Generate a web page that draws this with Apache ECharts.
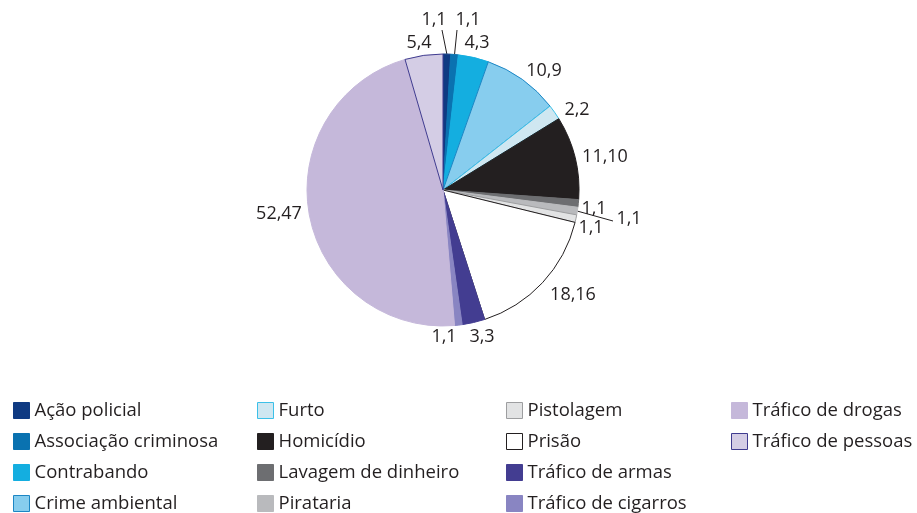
<!DOCTYPE html>
<html>
<head>
<meta charset="utf-8">
<script src="https://cdn.jsdelivr.net/npm/echarts@6/dist/echarts.min.js"></script>
<style>
  html, body { margin: 0; padding: 0; background: #fff; }
  #chart { width: 917px; height: 513px; }
</style>
</head>
<body>
<div id="chart"></div>
<script>
const categories = [
  'Ação policial', 'Associação criminosa', 'Contrabando', 'Crime ambiental',
  'Furto', 'Homicídio', 'Lavagem de dinheiro', 'Pirataria',
  'Pistolagem', 'Prisão', 'Tráfico de armas', 'Tráfico de cigarros',
  'Tráfico de drogas', 'Tráfico de pessoas'
]
const counts = [1, 1, 4, 10, 2, 11, 1, 1, 1, 18, 3, 1, 52, 5]
const percents = [1, 1, 3, 9, 2, 10, 1, 1, 1, 16, 3, 1, 47, 4]

const fills = ['#0f3a82', '#0a72b0', '#14aee0', '#87cdee', '#cfe7f1', '#231f20', '#6d6e71',
  '#b9babd', '#e2e3e4', '#ffffff', '#433d91', '#8985c2', '#c5b8da', '#d4cde5']
const borders = ['#0f3a82', '#0a72b0', '#14aee0', '#1c86c4', '#3cc0e8', '#231f20', '#6d6e71',
  '#b9babd', '#9d9ea0', '#231f20', '#433d91', '#8985c2', '#c5b8da', '#3f3b8f']

// where each value label sits (text centre), as in the printed figure
const labelSpots = [
  [434, 20], [468, 20], [477, 43], [544, 71], [577, 110], [605, 157], [594, 209],
  [629, 219], [591, 228], [573, 295], [482, 337], [444, 337], [279, 214], [419, 43]
]
// labels tied to their slice with a short line: index -> line end
const leaderEnds = { 0: [442, 30], 1: [457, 30], 7: [613, 221] }

const chart = echarts.init(document.getElementById('chart'))

const pieData = categories.map((name, i) => ({
  name,
  value: counts[i],
  itemStyle: { color: fills[i], borderColor: borders[i], borderWidth: 1 },
  labelLine: { show: i in leaderEnds },
}))

const legendCol = (names, left) => ({
  orient: 'vertical',
  left,
  top: 396,
  height: 130,
  icon: 'rect',
  itemWidth: 16,
  itemHeight: 16,
  itemGap: 12,
  selectedMode: false,
  data: names,
  itemStyle: { borderWidth: 1 },
  textStyle: { fontSize: 18.5, color: '#231f20', fontFamily: 'Open Sans' },
})

chart.setOption({
  animation: false,
  legend: [
    legendCol(categories.slice(0, 4), 8),
    legendCol(categories.slice(4, 8), 252),
    legendCol(categories.slice(8, 12), 501),
    legendCol(categories.slice(12), 726),
  ],
  series: [
    {
      type: 'pie',
      center: [443, 190],
      radius: 136,
      startAngle: 90,
      clockwise: true,
      avoidLabelOverlap: false,
      data: pieData,
      label: {
        position: 'outside',
        fontSize: 18,
        fontFamily: 'Open Sans',
        color: '#231f20',
        formatter: (p) => counts[p.dataIndex] + ',' + percents[p.dataIndex],
      },
      labelLine: { length: 6, length2: 0, lineStyle: { color: '#231f20', width: 1 } },
      labelLayout: (params) => {
        const i = params.dataIndex
        const spot = labelSpots[i]
        const out = { x: spot[0], y: spot[1], align: 'center', verticalAlign: 'middle' }
        if (i in leaderEnds && params.labelLinePoints) {
          out.labelLinePoints = [params.labelLinePoints[0], leaderEnds[i], leaderEnds[i]]
        }
        return out
      },
      emphasis: { disabled: true },
    },
  ],
})
</script>
</body>
</html>
